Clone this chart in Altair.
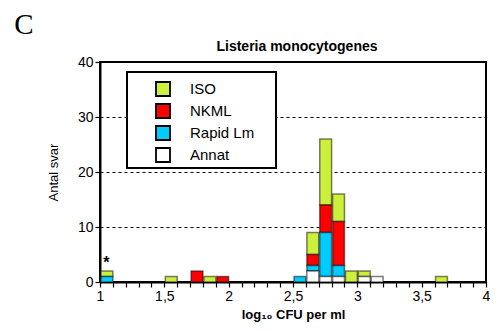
import altair as alt
import pandas as pd

# Histogram bins (left edges, log10 CFU per ml), width 0.1
bin_start = [1.0, 1.5, 1.7, 1.8, 1.9, 2.5, 2.6, 2.7, 2.8, 2.9, 3.0, 3.1, 3.6]
iso   = [1, 1, 0, 1, 0, 0, 4, 12, 5, 2, 1, 0, 1]
nkml  = [0, 0, 2, 0, 1, 0, 2, 5, 8, 0, 0, 0, 0]
rapid = [1, 0, 0, 0, 0, 1, 1, 8, 2, 0, 0, 0, 0]
annat = [0, 0, 0, 0, 0, 0, 2, 1, 1, 0, 1, 1, 0]
series = ["ISO", "NKML", "Rapid Lm", "Annat"]
colors = ["#ccf03c", "#ff0000", "#00ccff", "#ffffff"]
bin_width = 0.1
x_ticks = [round(1 + 0.1 * i, 1) for i in range(31)]
y_ticks = [0, 10, 20, 30, 40]
star_x = [1.05]
star_y = [3.4]

rows = []
for name, vals, order in zip(series, [iso, nkml, rapid, annat], [3, 2, 1, 0]):
    for b, v in zip(bin_start, vals):
        if v > 0:
            rows.append(dict(lo=b, hi=round(b + bin_width, 2), count=v,
                             series=name, order=order))
df = pd.DataFrame(rows)

FONT = "Liberation Sans"

xscale = alt.Scale(domain=[1, 4], nice=False, zero=False)
yscale = alt.Scale(domain=[0, 40], nice=False)

label_expr = ("abs(datum.value*2 - round(datum.value*2)) < 0.001 ? "
              "replace(format(datum.value, '.1~f'), '.', ',') : ''")

bars = alt.Chart(df).mark_bar(stroke="black", strokeOpacity=0.5, strokeWidth=1.5).encode(
    x=alt.X("lo:Q", bin=alt.Bin(binned=True, step=bin_width), scale=xscale,
            axis=alt.Axis(values=x_ticks, labelExpr=label_expr, title="log₁₀ CFU per ml",
                          titleFont=FONT, titleFontWeight="bold", titleFontSize=13,
                          labelFont=FONT, labelFontSize=14, labelColor="black",
                          tickSize=5, tickColor="black", tickWidth=1.2,
                          domainColor="black", domainWidth=2, grid=False,
                          labelPadding=2, titlePadding=5, labelFlush=False,
                          labelOverlap=False)),
    x2="hi:Q",
    y=alt.Y("count:Q", stack="zero", scale=yscale,
            axis=alt.Axis(values=y_ticks, title="Antal svar", titleFont=FONT,
                          titleFontWeight="normal", titleFontSize=13,
                          labelFont=FONT, labelFontSize=14, labelColor="black",
                          tickSize=5, tickColor="black", tickWidth=1.2,
                          domainColor="black", domainWidth=2,
                          grid=True, gridDash=[3, 3], gridColor="black",
                          gridWidth=1, labelPadding=2, titlePadding=17)),
    fill=alt.Fill("series:N", scale=alt.Scale(domain=series, range=colors),
                  legend=alt.Legend(title=None, orient="none", legendX=55, legendY=19,
                                    symbolType="square", symbolSize=196,
                                    symbolStrokeColor="black", symbolStrokeWidth=1.8,
                                    symbolOpacity=1,
                                    labelFont=FONT, labelFontSize=15, labelColor="black",
                                    labelOffset=19, rowPadding=0, padding=0)),
    order=alt.Order("order:Q"),
)

box = alt.Chart(pd.DataFrame({"a": [0]})).mark_rect(
    fill="white", stroke="black", strokeWidth=2).encode(
    x=alt.value(27), x2=alt.value(176), y=alt.value(10), y2=alt.value(106))

star = alt.Chart(pd.DataFrame({"x": star_x, "y": star_y})).mark_text(
    text="*", fontSize=16, fontWeight="bold", font=FONT, color="black").encode(
    x=alt.X("x:Q", scale=xscale), y=alt.Y("y:Q", scale=yscale))

letter = alt.Chart(pd.DataFrame({"a": [0]})).mark_text(
    text="C", font="Liberation Serif", fontSize=29, color="black").encode(
    x=alt.value(-76), y=alt.value(-37))

title = alt.Chart(pd.DataFrame({"a": [0]})).mark_text(
    text="Listeria monocytogenes", font=FONT, fontSize=14, fontWeight="bold",
    color="black").encode(x=alt.value(197), y=alt.value(-15))

chart = alt.layer(box, bars, star, letter, title).properties(
    width=386, height=220,
    padding={"left": 92, "top": 54, "right": 5, "bottom": 41},
    autosize="none",
).configure_view(stroke="black", strokeWidth=2)

chart.save("out.html", embed_options={"renderer": "svg", "actions": False})
